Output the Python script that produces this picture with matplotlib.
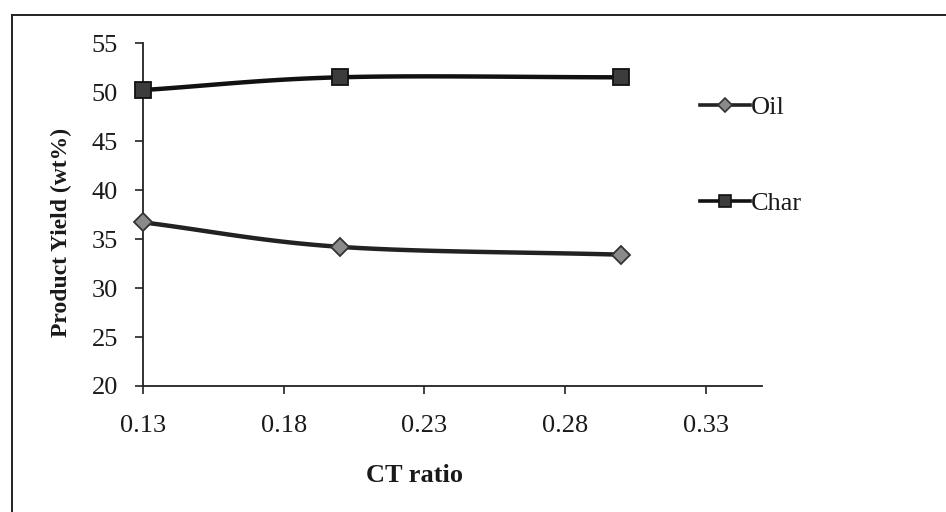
import numpy as np
import matplotlib
matplotlib.use("Agg")
import matplotlib.pyplot as plt
from matplotlib.lines import Line2D

# Product yields versus CT ratio
ct_ratio = [0.13, 0.20, 0.30]
oil_yield = [36.7, 34.2, 33.4]
char_yield = [50.2, 51.5, 51.5]

x_ticks = [0.13, 0.18, 0.23, 0.28, 0.33]
x_tick_labels = ["0.13", "0.18", "0.23", "0.28", "0.33"]
y_ticks = [20, 25, 30, 35, 40, 45, 50, 55]

plt.rcParams["font.family"] = ["Liberation Serif", "DejaVu Serif"]


def smooth(xs, ys, n=60):
    """Catmull-Rom curve through the given points."""
    xs = np.asarray(xs, float)
    ys = np.asarray(ys, float)
    px = np.concatenate([[2 * xs[0] - xs[1]], xs, [2 * xs[-1] - xs[-2]]])
    py = np.concatenate([[2 * ys[0] - ys[1]], ys, [2 * ys[-1] - ys[-2]]])
    out_x, out_y = [], []
    t = np.linspace(0, 1, n)
    for i in range(1, len(px) - 2):
        p0x, p1x, p2x, p3x = px[i - 1:i + 3]
        p0y, p1y, p2y, p3y = py[i - 1:i + 3]
        bx = 0.5 * ((2 * p1x) + (-p0x + p2x) * t + (2 * p0x - 5 * p1x + 4 * p2x - p3x) * t ** 2
                    + (-p0x + 3 * p1x - 3 * p2x + p3x) * t ** 3)
        by = 0.5 * ((2 * p1y) + (-p0y + p2y) * t + (2 * p0y - 5 * p1y + 4 * p2y - p3y) * t ** 2
                    + (-p0y + 3 * p1y - 3 * p2y + p3y) * t ** 3)
        out_x.extend(bx)
        out_y.extend(by)
    return np.array(out_x), np.array(out_y)


fig = plt.figure(figsize=(9.46, 5.12), dpi=100)
ax = fig.add_axes([143 / 946, 1 - 386 / 512, (762 - 143) / 946, (386 - 43) / 512])

line_w = 3.2
ox, oy = smooth(ct_ratio, oil_yield)
cx, cy = smooth(ct_ratio, char_yield)
ax.plot(ox, oy, color="#222222", lw=line_w, solid_capstyle="round", zorder=3, clip_on=False)
ax.plot(cx, cy, color="#111111", lw=line_w, solid_capstyle="round", zorder=3, clip_on=False)
ax.plot(ct_ratio, oil_yield, ls="none", marker="D", ms=9, mfc="#8a8a8a",
        mec="#333333", mew=1.3, zorder=4, clip_on=False)
ax.plot(ct_ratio, char_yield, ls="none", marker="s", ms=12, mfc="#3c3c3c",
        mec="#111111", mew=1.3, zorder=4, clip_on=False)

ax.set_xlim(0.13, 0.35)
ax.set_ylim(20, 55)
ax.set_xticks(x_ticks)
ax.set_xticklabels(x_tick_labels)
ax.set_yticks(y_ticks)

for side in ("top", "right"):
    ax.spines[side].set_visible(False)
for side in ("left", "bottom"):
    ax.spines[side].set_linewidth(1.3)
    ax.spines[side].set_color("#222222")

ax.tick_params(axis="both", direction="out", length=6, width=1.2, colors="#222222",
               labelsize=19, labelcolor="#1a1a1a")
ax.tick_params(axis="x", pad=15)
ax.tick_params(axis="y", pad=12)

ax.set_xlabel("CT ratio", fontsize=19, fontweight="bold", color="#1a1a1a")
ax.xaxis.set_label_coords((414 - 143) / (762 - 143), -(464 - 386) / (386 - 43))
ax.set_ylabel("Product Yield (wt%)", fontsize=17, fontweight="bold", color="#1a1a1a")
ax.yaxis.set_label_coords(-(143 - 72) / (762 - 143), (386 - 232) / (386 - 43))

handles = [
    Line2D([], [], color="#222222", lw=2.6, marker="D", ms=7, mfc="#8a8a8a",
           mec="#333333", mew=1.2),
    Line2D([], [], color="#111111", lw=2.6, marker="s", ms=9, mfc="#3c3c3c",
           mec="#111111", mew=1.2),
]
fig.legend(handles, ["Oil", "Char"], loc="upper left",
           bbox_to_anchor=(689 / 946, 1 - 85 / 512), frameon=False,
           fontsize=19, handlelength=1.9, handletextpad=0.05,
           labelspacing=2.75, borderaxespad=0, labelcolor="#1a1a1a")

# Outer frame edges
fig.add_artist(Line2D([12 / 946, 1.0], [1 - 15 / 512, 1 - 15 / 512],
                      transform=fig.transFigure, color="#222222", lw=1.4))
fig.add_artist(Line2D([12 / 946, 12 / 946], [0.0, 1 - 15 / 512],
                      transform=fig.transFigure, color="#222222", lw=1.4))

fig.savefig("out.png", dpi=100)
